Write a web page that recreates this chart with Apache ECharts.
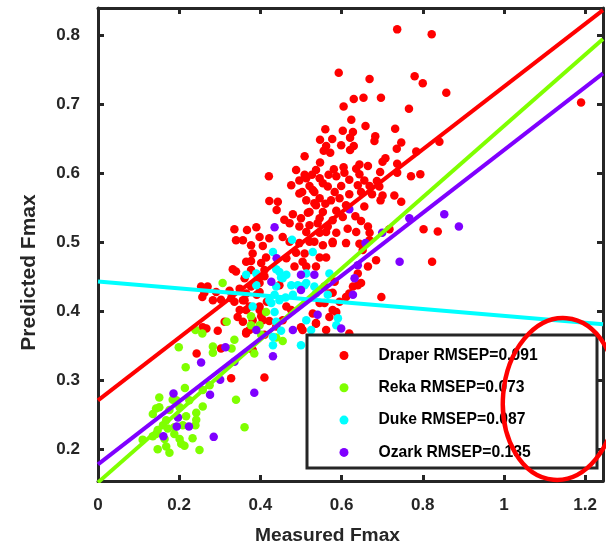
<!DOCTYPE html>
<html><head><meta charset="utf-8">
<script src="https://cdn.jsdelivr.net/npm/echarts@6/dist/echarts.min.js"></script>
<style>html,body{margin:0;padding:0;background:#fff}#c{width:606px;height:551px}</style>
</head><body><div id="c"></div>
<script>
const seriesNames = ['Draper RMSEP=0.091', 'Reka RMSEP=0.073', 'Duke RMSEP=0.087', 'Ozark RMSEP=0.135'];
const seriesColors = ['#ff0000', '#7fff00', '#00ffff', '#7f00ff'];
const xTicks = [0, 0.2, 0.4, 0.6, 0.8, 1, 1.2];
const yTicks = [0.2, 0.3, 0.4, 0.5, 0.6, 0.7, 0.8];
const xRange = [0, 1.244];
const yRange = [0.154, 0.84];
// regression lines: intercept and slope per series
const fitIntercepts = [0.271, 0.152, 0.4435, 0.178];
const fitSlopes = [0.455, 0.517, -0.05, 0.456];

const draperPoints = [
[0.593,0.746],[0.669,0.737],[0.780,0.741],[0.800,0.731],[0.858,0.717],[0.630,0.708],[0.654,0.710],[0.697,0.710],[0.605,0.697],[0.766,0.694],
[0.624,0.678],[0.659,0.669],[0.560,0.664],[0.603,0.662],[0.628,0.660],[0.732,0.665],[0.547,0.649],[0.577,0.650],[0.621,0.652],[0.683,0.654],
[0.681,0.647],[0.747,0.645],[0.562,0.640],[0.599,0.641],[0.630,0.640],[0.736,0.636],[0.841,0.646],[0.556,0.633],[0.572,0.630],[0.621,0.634],
[0.784,0.632],[0.509,0.625],[0.708,0.622],[0.701,0.617],[0.547,0.616],[0.737,0.614],[0.644,0.613],[0.665,0.611],[0.581,0.606],[0.605,0.609],
[0.636,0.607],[0.537,0.605],[0.509,0.598],[0.527,0.598],[0.568,0.598],[0.587,0.596],[0.607,0.601],[0.644,0.599],[0.695,0.602],[0.737,0.601],
[0.771,0.596],[0.794,0.599],[0.496,0.590],[0.546,0.593],[0.619,0.591],[0.656,0.590],[0.687,0.589],[0.521,0.582],[0.566,0.581],[0.599,0.582],
[0.640,0.583],[0.669,0.582],[0.693,0.581],[0.503,0.573],[0.533,0.573],[0.583,0.573],[0.619,0.570],[0.648,0.573],[0.675,0.570],[0.730,0.568],
[0.701,0.568],[0.747,0.559],[0.513,0.561],[0.546,0.564],[0.574,0.561],[0.595,0.564],[0.696,0.561],[0.537,0.554],[0.560,0.556],[0.611,0.554],
[0.656,0.552],[0.521,0.544],[0.554,0.544],[0.587,0.546],[0.634,0.538],[0.500,0.535],[0.546,0.535],[0.578,0.532],[0.603,0.537],[0.648,0.531],
[0.521,0.525],[0.566,0.523],[0.615,0.520],[0.665,0.523],[0.669,0.514],[0.513,0.515],[0.546,0.514],[0.587,0.514],[0.636,0.515],[0.718,0.519],
[0.802,0.519],[0.837,0.516],[0.533,0.501],[0.578,0.499],[0.611,0.499],[0.644,0.498],
[0.421,0.596],[0.488,0.605],[0.513,0.593],[0.476,0.583],[0.496,0.571],[0.422,0.560],[0.443,0.559],[0.440,0.547],[0.529,0.576],[0.554,0.586],
[0.533,0.557],[0.517,0.543],[0.480,0.541],[0.459,0.533],[0.472,0.528],[0.496,0.523],[0.541,0.528],[0.562,0.515],[0.367,0.518],[0.390,0.522],
[0.398,0.508],[0.422,0.506],[0.357,0.503],[0.340,0.503],[0.377,0.496],[0.406,0.495],[0.455,0.508],[0.472,0.501],[0.496,0.499],[0.521,0.501],
[0.488,0.485],[0.509,0.484],[0.554,0.496],[0.578,0.501],[0.381,0.484],[0.414,0.478],[0.464,0.477],[0.504,0.472],[0.546,0.478],[0.562,0.478],
[0.377,0.473],[0.402,0.470],[0.332,0.461],[0.340,0.458],[0.377,0.460],[0.410,0.460],[0.484,0.465],[0.513,0.465],[0.537,0.465],[0.410,0.451],
[0.394,0.448],[0.361,0.448],[0.398,0.441],[0.447,0.438],[0.558,0.436],[0.583,0.443],[0.349,0.433],[0.254,0.436],[0.270,0.436],[0.324,0.430],
[0.291,0.428],[0.398,0.428],[0.578,0.427],
[0.283,0.416],[0.303,0.417],[0.336,0.414],[0.349,0.402],[0.373,0.407],[0.398,0.407],[0.416,0.414],[0.344,0.392],[0.357,0.385],[0.381,0.387],
[0.402,0.393],[0.422,0.386],[0.365,0.368],[0.410,0.366],[0.439,0.378],[0.455,0.387],[0.464,0.407],[0.476,0.402],[0.529,0.397],[0.537,0.383],
[0.562,0.373],[0.578,0.402],[0.595,0.414],[0.619,0.426],[0.648,0.441],[0.628,0.436],[0.640,0.455],[0.665,0.465],[0.685,0.474],[0.698,0.421],
[0.652,0.489],[0.669,0.503],[0.611,0.421],[0.570,0.426],[0.546,0.412],[0.373,0.373],[0.391,0.424],[0.365,0.426],
[0.262,0.427],[0.328,0.419],[0.357,0.416],[0.365,0.402],[0.312,0.385],[0.258,0.377],[0.267,0.375],[0.295,0.372],[0.243,0.339],[0.303,0.346],
[0.328,0.303],[0.381,0.344],
[0.365,0.472],[0.377,0.436],[0.361,0.416],[0.398,0.402],[0.406,0.387],[0.365,0.370],[0.500,0.377],[0.587,0.399],[0.640,0.438],[0.558,0.412],
[0.570,0.392],[0.410,0.304],[0.823,0.472],[1.190,0.703],[0.737,0.809],[0.822,0.802],[0.504,0.373],[0.537,0.382],[0.619,0.368],[0.336,0.519],[0.257,0.421]
];
const rekaPoints = [
[0.240,0.373],[0.257,0.368],[0.317,0.385],[0.199,0.348],[0.283,0.349],[0.283,0.340],[0.336,0.359],[0.329,0.346],[0.377,0.393],[0.385,0.339],
[0.216,0.319],[0.214,0.289],[0.151,0.275],[0.184,0.272],[0.151,0.261],[0.143,0.259],[0.135,0.251],[0.176,0.257],[0.201,0.261],[0.242,0.253],
[0.258,0.262],[0.242,0.243],[0.240,0.235],[0.217,0.248],[0.168,0.242],[0.160,0.235],[0.147,0.228],[0.172,0.230],[0.188,0.232],[0.209,0.235],
[0.143,0.222],[0.110,0.214],[0.135,0.219],[0.164,0.215],[0.188,0.222],[0.201,0.215],[0.233,0.216],[0.168,0.204],[0.147,0.200],[0.176,0.195],
[0.205,0.208],[0.213,0.205],[0.250,0.199],[0.340,0.272],[0.361,0.232],[0.193,0.271],[0.225,0.271],[0.258,0.286],[0.275,0.293],[0.414,0.399],
[0.377,0.380],[0.402,0.366],[0.439,0.362],[0.455,0.357],[0.307,0.441],[0.398,0.380]
];
const dukePoints = [
[0.365,0.453],[0.390,0.438],[0.431,0.486],[0.447,0.457],[0.464,0.453],[0.455,0.448],[0.435,0.424],[0.422,0.416],[0.447,0.416],[0.480,0.424],
[0.509,0.438],[0.513,0.455],[0.570,0.455],[0.537,0.426],[0.381,0.407],[0.435,0.399],[0.439,0.385],[0.513,0.387],[0.525,0.373],[0.591,0.390],
[0.587,0.380],[0.431,0.363],[0.451,0.372],[0.431,0.351],[0.500,0.351],[0.390,0.455],[0.478,0.504],[0.529,0.486],[0.439,0.461],[0.451,0.449],
[0.476,0.438],[0.492,0.438],[0.513,0.441],[0.566,0.424],[0.533,0.436],[0.439,0.436],[0.462,0.420],[0.427,0.412]
];
const ozarkPoints = [
[0.314,0.348],[0.254,0.326],[0.336,0.327],[0.301,0.301],[0.186,0.281],[0.276,0.279],[0.385,0.282],[0.197,0.246],[0.194,0.233],[0.224,0.233],
[0.161,0.219],[0.285,0.218],[0.390,0.373],[0.500,0.453],[0.533,0.453],[0.500,0.431],[0.427,0.443],[0.632,0.448],[0.628,0.424],[0.640,0.467],
[0.541,0.395],[0.480,0.373],[0.599,0.375],[0.431,0.335],[0.743,0.472],[0.435,0.522],[0.440,0.477],[0.767,0.535],[0.853,0.541],[0.889,0.523],
[0.619,0.548],[0.700,0.514],[0.659,0.499]
];
const allPoints = [draperPoints, rekaPoints, dukePoints, ozarkPoints];

const FONT = "'Liberation Sans', Arial, Helvetica, sans-serif";
const AX = '#262626';
const fmt = v => String(+(+v).toFixed(2));

function axisBase(extra) {
  return Object.assign({
    type: 'value',
    splitLine: { show: false },
    axisLine: { show: true, onZero: false, lineStyle: { color: AX, width: 3 } }
  }, extra);
}

const chart = echarts.init(document.getElementById('c'), null, { renderer: 'canvas' });

const scatterSeries = allPoints.map((pts, i) => ({
  type: 'scatter', name: seriesNames[i], data: pts,
  xAxisIndex: 0, yAxisIndex: 0,
  symbol: 'circle', symbolSize: 8.5,
  itemStyle: { color: seriesColors[i], opacity: 1 },
  emphasis: { disabled: true }, z: 2
}));
const lineSeries = fitIntercepts.map((b, i) => ({
  type: 'line', name: seriesNames[i] + ' fit',
  xAxisIndex: 0, yAxisIndex: 0,
  data: [[xRange[0], b + fitSlopes[i] * xRange[0]], [xRange[1], b + fitSlopes[i] * xRange[1]]],
  showSymbol: false, symbol: 'none', clip: true,
  lineStyle: { color: seriesColors[i], width: 4 },
  emphasis: { disabled: true }, z: 3
}));

chart.setOption({
  animation: false,
  backgroundColor: '#fff',
  grid: { left: 98, right: 3, top: 8, bottom: 70 },
  xAxis: [
    axisBase({
      min: xRange[0], max: xRange[1], position: 'bottom',
      axisTick: { show: true, inside: true, length: 6, customValues: xTicks, lineStyle: { color: AX, width: 3 } },
      axisLabel: { customValues: xTicks, formatter: fmt, margin: 16, fontSize: 17, fontWeight: 'bold', color: AX, fontFamily: FONT },
      name: 'Measured Fmax', nameLocation: 'middle', nameGap: 45,
      nameTextStyle: { fontSize: 19.2, fontWeight: 'bold', color: AX, fontFamily: FONT, padding: [0, 46, 0, 0] }
    }),
    axisBase({
      min: xRange[0], max: xRange[1], position: 'top',
      axisTick: { show: true, inside: true, length: 6, customValues: xTicks, lineStyle: { color: AX, width: 3 } },
      axisLabel: { show: false }
    })
  ],
  yAxis: [
    axisBase({
      min: yRange[0], max: yRange[1], position: 'left',
      axisTick: { show: true, inside: true, length: 6, customValues: yTicks, lineStyle: { color: AX, width: 3 } },
      axisLabel: { customValues: yTicks, formatter: fmt, margin: 18, fontSize: 17, fontWeight: 'bold', color: AX, fontFamily: FONT },
      name: 'Predicted Fmax', nameLocation: 'middle', nameGap: 58, nameRotate: 90,
      nameTextStyle: { fontSize: 21, fontWeight: 'bold', color: AX, fontFamily: FONT, padding: [0, 56, 0, 0] }
    }),
    axisBase({
      min: yRange[0], max: yRange[1], position: 'right',
      axisTick: { show: true, inside: true, length: 6, customValues: yTicks, lineStyle: { color: AX, width: 3 } },
      axisLabel: { show: false }
    })
  ],
  legend: {
    data: seriesNames, orient: 'vertical', left: 334.5, top: 341.5,
    itemWidth: 9, itemHeight: 9, itemGap: 14.3, icon: 'circle', z: 10,
    selectedMode: false,
    textStyle: { fontSize: 15.7, fontWeight: 'bold', color: '#000', fontFamily: FONT, padding: [0, 0, 0, 25], lineHeight: 18 }
  },
  graphic: [
    { type: 'rect', z: 5, shape: { x: 307, y: 335, width: 290, height: 133 },
      style: { fill: '#fff', stroke: AX, lineWidth: 3 } },
    { type: 'ellipse', z: 20, x: 560, y: 399, rotation: -0.08,
      shape: { cx: 0, cy: 0, rx: 57, ry: 81 },
      style: { fill: 'none', stroke: '#ff0000', lineWidth: 4.5 } }
  ],
  series: scatterSeries.concat(lineSeries)
});
</script>
</body></html>
